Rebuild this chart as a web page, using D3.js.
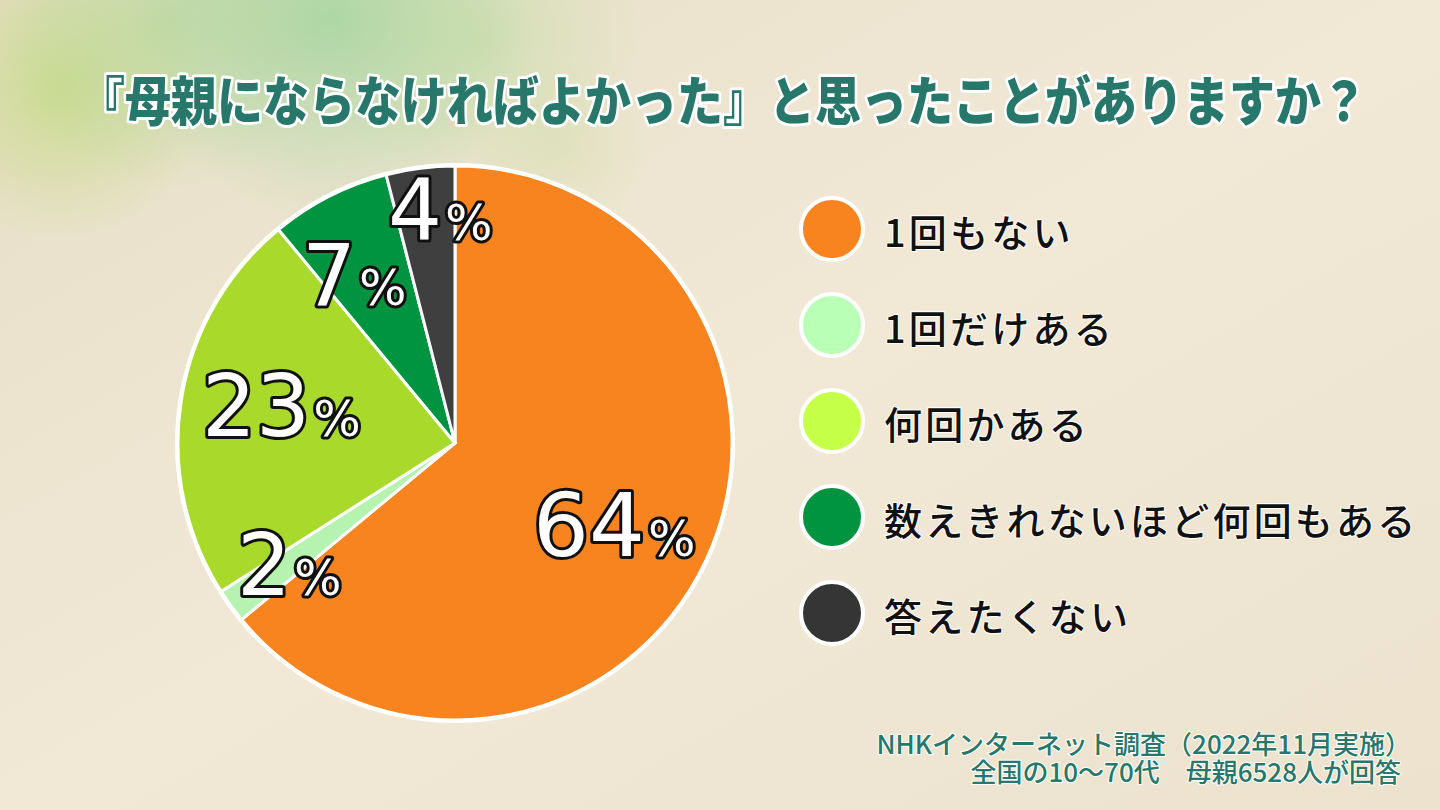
<!DOCTYPE html>
<html><head><meta charset="utf-8">
<script src="https://cdn.jsdelivr.net/npm/d3@7"></script>
<style>
html,body{margin:0;padding:0;width:1440px;height:810px;overflow:hidden;}
svg{display:block;}
</style></head>
<body>
<script>
const categories = ["1回もない","1回だけある","何回かある","数えきれないほど何回もある","答えたくない"];
const values = [64, 2, 23, 7, 4];
const pieColors = ["#F7841F","#B6F2B0","#A8D92B","#009440","#3F3F3F"];
const legendColors = ["#F7841F","#BAFFB6","#C6FF48","#009440","#353535"];
const titleText = "『母親にならなければよかった』と思ったことがありますか？";
const noteLines = ["NHKインターネット調査（2022年11月実施）","全国の10～70代　母親6528人が回答"];
const labelPos = [[533,556],[237,595],[202,436],[302,305],[388,240]];

const W=1440,H=810;
const svg=d3.select("body").append("svg").attr("width",W).attr("height",H);
const defs=svg.append("defs");
const bg=defs.append("linearGradient").attr("id","bg").attr("x1",0).attr("y1",0).attr("x2",1).attr("y2",1);
bg.append("stop").attr("offset",0).attr("stop-color","#E6DEC6");
bg.append("stop").attr("offset",0.5).attr("stop-color","#F1E9D6");
bg.append("stop").attr("offset",1).attr("stop-color","#ECE2CE");
svg.append("rect").attr("width",W).attr("height",H).attr("fill","url(#bg)");
const blobs=[[330,20,200,"#86D08C",0.6],[60,90,150,"#B9D86E",0.6],[480,40,160,"#A6D889",0.35],[170,20,170,"#9FD48A",0.45],[560,150,90,"#C8DC9A",0.3]];
blobs.forEach((b,i)=>{
  const g=defs.append("radialGradient").attr("id","bl"+i);
  g.append("stop").attr("offset",0).attr("stop-color",b[3]).attr("stop-opacity",b[4]);
  g.append("stop").attr("offset",1).attr("stop-color",b[3]).attr("stop-opacity",0);
  svg.append("circle").attr("cx",b[0]).attr("cy",b[1]).attr("r",b[2]).attr("fill","url(#bl"+i+")");
});

// Title
svg.append("text").attr("text-anchor","middle")
  .attr("transform","translate(723,121) scale(1,1.15)")
  .attr("font-family","'Noto Sans CJK JP'").attr("font-weight",900).attr("font-size",46)
  .attr("fill","#27776A").attr("stroke","#fff").attr("stroke-width",5).attr("paint-order","stroke")
  .attr("stroke-linejoin","round").text(titleText);

// Pie
const cx=455,cy=443,R=277;
const pie=d3.pie().sort(null).value(d=>d)(values);
const arc=d3.arc().innerRadius(0).outerRadius(R);
const pg=svg.append("g").attr("transform",`translate(${cx},${cy})`);
pg.append("circle").attr("r",R+3).attr("fill","#fff");
pg.selectAll("path").data(pie).join("path").attr("d",arc)
  .attr("fill",(d,i)=>pieColors[i]).attr("stroke","#fff").attr("stroke-width",3).attr("stroke-linejoin","round");

const lg=svg.append("g");
pie.forEach((d,i)=>{
  const big=[88,85,85,85,85][i];
  const t=lg.append("text").attr("x",labelPos[i][0]).attr("y",labelPos[i][1])
    .attr("font-family","'DejaVu Sans'").attr("font-weight",400)
    .attr("fill","#fff").attr("stroke","#111").attr("stroke-width",6).attr("paint-order","stroke").attr("stroke-linejoin","round");
  t.append("tspan").attr("font-size",big).text(values[i]);
  t.append("tspan").attr("font-size",50).attr("dx",3).text("%");
});

// Legend
const ly=d3.scalePoint().domain(categories).range([229,613]);
const leg=svg.append("g");
categories.forEach((c,i)=>{
  leg.append("circle").attr("cx",832).attr("cy",ly(c)).attr("r",31)
    .attr("fill",legendColors[i]).attr("stroke","#fff").attr("stroke-width",4);
  leg.append("text").attr("x",884).attr("y",ly(c)+1).attr("dominant-baseline","central")
    .attr("font-family","'Noto Sans CJK JP'").attr("font-weight",500).attr("font-size",38)
    .attr("letter-spacing",3.2)
    .attr("fill","#111").attr("stroke","#fff").attr("stroke-width",2).attr("paint-order","stroke").text(c);
});

// Footnote
const note=svg.append("text").attr("text-anchor","end")
  .attr("font-family","'Noto Sans CJK JP'").attr("font-weight",500).attr("font-size",26)
  .attr("fill","#27776A").attr("stroke","#fff").attr("stroke-width",2).attr("paint-order","stroke");
noteLines.forEach((s,i)=>{
  note.append("tspan").attr("x",i===0?1411:1401).attr("y",754+i*28).text(s);
});
</script>
</body></html>
